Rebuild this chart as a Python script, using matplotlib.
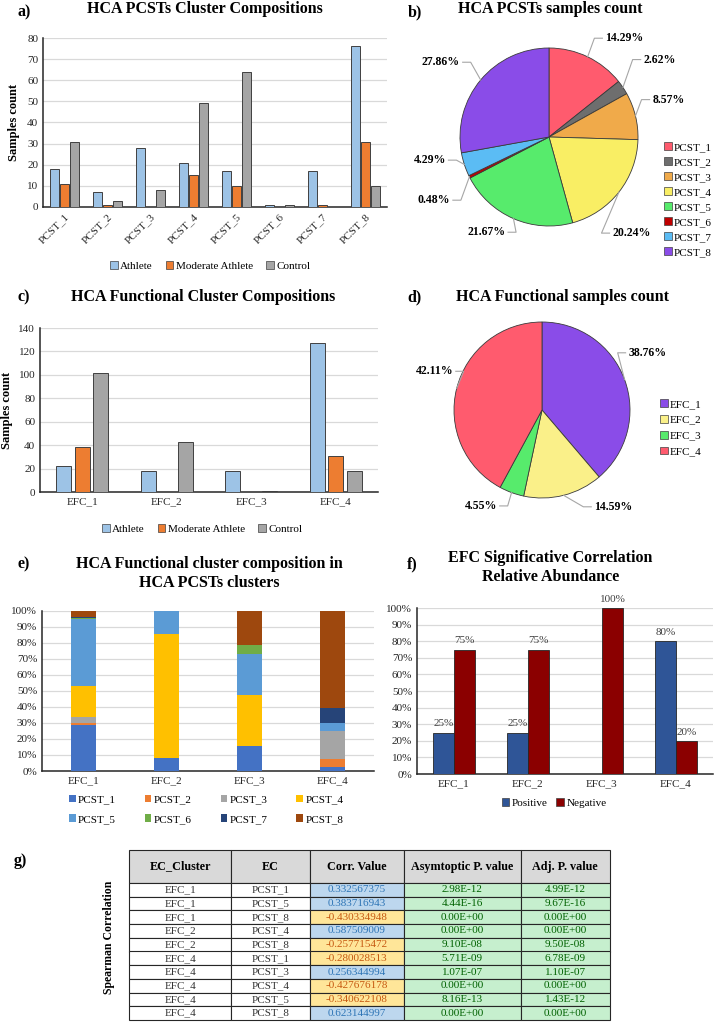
import numpy as np
import matplotlib
matplotlib.use('Agg')
import matplotlib.pyplot as plt
from matplotlib.patches import Patch

plt.rcParams['font.family'] = ['Liberation Serif', 'DejaVu Serif']

W, H = 715, 1022

# ---------------- data ----------------
pcst = ['PCST_1', 'PCST_2', 'PCST_3', 'PCST_4', 'PCST_5', 'PCST_6', 'PCST_7', 'PCST_8']
groups = ['Athlete', 'Moderate Athlete', 'Control']
pcst_athlete = [18, 7, 28, 21, 17, 1, 17, 76]
pcst_moderate = [11, 1, 0, 15, 10, 0, 1, 31]
pcst_control = [31, 3, 8, 49, 64, 1, 0, 10]
pcst_share = [14.29, 2.62, 8.57, 20.24, 21.67, 0.48, 4.29, 27.86]

efc = ['EFC_1', 'EFC_2', 'EFC_3', 'EFC_4']
efc_athlete = [22, 18, 18, 127]
efc_moderate = [38, 0, 0, 31]
efc_control = [102, 43, 1, 18]
efc_share = [38.76, 14.59, 4.55, 42.11]

# % of each PCST cluster inside each EFC (one list per PCST, over EFC_1..EFC_4)
efc_pcst_pct = [
    [28.7, 7.9, 15.6, 2.3],
    [1.4, 0.0, 0.0, 5.2],
    [3.6, 0.0, 0.0, 17.2],
    [19.3, 77.5, 31.6, 0.0],
    [41.8, 14.6, 26.2, 5.2],
    [0.6, 0.0, 5.6, 0.0],
    [1.1, 0.0, 0.0, 9.2],
    [3.5, 0.0, 21.0, 60.9],
]

corr_positive = [25, 25, 0, 80]
corr_negative = [75, 75, 100, 20]

tab_header = ['EC_Cluster', 'EC', 'Corr. Value', 'Asymtoptic P. value', 'Adj. P. value']
tab_cluster = ['EFC_1', 'EFC_1', 'EFC_1', 'EFC_2', 'EFC_2', 'EFC_4', 'EFC_4', 'EFC_4', 'EFC_4', 'EFC_4']
tab_ec = ['PCST_1', 'PCST_5', 'PCST_8', 'PCST_4', 'PCST_8', 'PCST_1', 'PCST_3', 'PCST_4', 'PCST_5', 'PCST_8']
tab_corr = [0.332567375, 0.383716943, -0.430334948, 0.587509009, -0.257715472,
            -0.280028513, 0.256344994, -0.427676178, -0.340622108, 0.623144997]
tab_asym = ['2.98E-12', '4.44E-16', '0.00E+00', '0.00E+00', '9.10E-08',
            '5.71E-09', '1.07E-07', '0.00E+00', '8.16E-13', '0.00E+00']
tab_adj = ['4.99E-12', '9.67E-16', '0.00E+00', '0.00E+00', '9.50E-08',
           '6.78E-09', '1.10E-07', '0.00E+00', '1.43E-12', '0.00E+00']

# ---------------- style ----------------
grp_colors = ['#9DC3E6', '#ED7D31', '#A5A5A5']
pie8_colors = ['#FF5B6E', '#6E6E6E', '#F0AA4A', '#F9EE64', '#57EB6C', '#C00000', '#5BBCF4', '#8A4CE8']
pie4_colors = ['#8A4CE8', '#FAF089', '#57EB6C', '#FF5B6E']
stack_colors = ['#4472C4', '#ED7D31', '#A5A5A5', '#FFC000', '#5B9BD5', '#70AD47', '#264478', '#9E480E']
pos_col, neg_col = '#2F5597', '#8B0000'
grid_col = '#D9D9D9'
TICK = 8


def rect(l, t, r, b):
    return [l / W, 1 - b / H, (r - l) / W, (b - t) / H]


def fxy(x, y):
    return (x / W, 1 - y / H)


def style_axes(ax):
    for s in ['top', 'right']:
        ax.spines[s].set_visible(False)
    for s in ['left', 'bottom']:
        ax.spines[s].set_color('#262626')
        ax.spines[s].set_linewidth(1.1)
    ax.tick_params(length=0, labelsize=TICK, colors='#262626')
    ax.grid(axis='y', color=grid_col, lw=0.9, zorder=0)
    ax.set_axisbelow(True)


def leg_handles(colors, edge='#404040'):
    return [Patch(facecolor=c, edgecolor=edge, linewidth=0.5) for c in colors]


fig = plt.figure(figsize=(W / 100, H / 100), dpi=100)


def title(x, y, s, size=11.5):
    fig.text(*fxy(x, y), s, ha='center', va='center', fontsize=size, fontweight='bold')


# ---- a) grouped bars
ax = fig.add_axes(rect(43, 38, 387, 207))
x = np.arange(len(pcst))
for i, (vals, c) in enumerate(zip([pcst_athlete, pcst_moderate, pcst_control], grp_colors)):
    ax.bar(x + (i - 1) * 0.225, vals, 0.205, color=c, edgecolor='#404040', linewidth=0.7, zorder=3)
ax.set_xlim(-0.5, len(pcst) - 0.5)
ax.set_ylim(0, 80)
ax.set_yticks(range(0, 81, 10))
ax.set_xticks(x)
ax.set_xticklabels(pcst, rotation=45, ha='right', rotation_mode='anchor')
style_axes(ax)
ax.set_ylabel('Samples count', fontsize=9, fontweight='bold', labelpad=5)
title(205, 9, 'HCA PCSTs Cluster Compositions')
title(24, 12, 'a)')
fig.legend(leg_handles(grp_colors), groups, loc='center', bbox_to_anchor=fxy(210, 266), ncol=3,
           frameon=False, fontsize=TICK, handlelength=0.7, handleheight=0.7, handletextpad=0.2,
           columnspacing=1.2)


def pie_panel(cx, cy, r, shares, colors, labels_pos, names, leg_xy, spacing):
    half = 1.5 * r
    axp = fig.add_axes(rect(cx - half, cy - half, cx + half, cy + half))
    wedges, _ = axp.pie(shares, colors=colors, startangle=90, counterclock=False,
                        wedgeprops=dict(edgecolor='#3a3a3a', linewidth=0.6))
    axp.set_xlim(-1.5, 1.5)
    axp.set_ylim(-1.5, 1.5)
    axp.set_aspect('equal')
    axp.axis('off')
    for w, val, (lx, ly, ha) in zip(wedges, shares, labels_pos):
        ang = np.deg2rad((w.theta1 + w.theta2) / 2)
        ex, ey = np.cos(ang), np.sin(ang)
        d = -1 if ha == 'left' else 1
        axp.plot([lx + d * 0.03, lx + d * 0.12, ex], [ly, ly, ey], color='#A6A6A6', lw=0.8)
        axp.text(lx, ly, f'{val:.2f}%', ha=ha, va='center', fontsize=8.5, fontweight='bold')
    fig.legend(leg_handles(colors), names, loc='upper left', bbox_to_anchor=fxy(*leg_xy),
               frameon=False, fontsize=TICK, handlelength=0.7, handleheight=0.7,
               handletextpad=0.2, labelspacing=spacing, borderpad=0, borderaxespad=0)


# ---- b) pie
pie8_labels = [(0.63, 1.11, 'left'), (1.06, 0.87, 'left'), (1.16, 0.42, 'left'), (0.71, -1.08, 'left'),
               (-0.49, -1.07, 'right'), (-1.11, -0.71, 'right'), (-1.16, -0.26, 'right'), (-1.0, 0.84, 'right')]
pie_panel(549, 137, 89, pcst_share, pie8_colors, pie8_labels, pcst, (664, 142), 0.47)
title(550, 9, 'HCA PCSTs samples count')
title(415, 12, 'b)')

# ---- c) grouped bars
ax = fig.add_axes(rect(40, 328, 378, 492))
x = np.arange(len(efc))
for i, (vals, c) in enumerate(zip([efc_athlete, efc_moderate, efc_control], grp_colors)):
    ax.bar(x + (i - 1) * 0.22, vals, 0.175, color=c, edgecolor='#404040', linewidth=0.7, zorder=3)
ax.set_xlim(-0.5, len(efc) - 0.5)
ax.set_ylim(0, 140)
ax.set_yticks(range(0, 141, 20))
ax.set_xticks(x)
ax.set_xticklabels(efc)
style_axes(ax)
ax.set_ylabel('Samples count', fontsize=9, fontweight='bold', labelpad=4)
title(203, 297, 'HCA Functional Cluster Compositions')
title(24, 297, 'c)')
fig.legend(leg_handles(grp_colors), groups, loc='center', bbox_to_anchor=fxy(202, 529), ncol=3,
           frameon=False, fontsize=TICK, handlelength=0.7, handleheight=0.7, handletextpad=0.2,
           columnspacing=1.2)

# ---- d) pie
pie4_labels = [(0.98, 0.65, 'left'), (0.59, -1.10, 'left'), (-0.51, -1.09, 'right'), (-1.01, 0.44, 'right')]
pie_panel(542, 410, 88, efc_share, pie4_colors, pie4_labels, efc, (660, 399), 0.55)
title(563, 297, 'HCA Functional samples count')
title(415, 297, 'd)')

# ---- e) stacked 100% bars
ax = fig.add_axes(rect(42, 611, 374, 771))
x = np.arange(len(efc))
bottom = np.zeros(len(efc))
for vals, c in zip(efc_pcst_pct, stack_colors):
    ax.bar(x, vals, 0.31, bottom=bottom, color=c, zorder=3)
    bottom += np.array(vals)
ax.set_xlim(-0.5, len(efc) - 0.5)
ax.set_ylim(0, 100)
ax.set_yticks(range(0, 101, 10))
ax.set_yticklabels([f'{v}%' for v in range(0, 101, 10)])
ax.set_xticks(x)
ax.set_xticklabels(efc)
style_axes(ax)
title(209, 564, 'HCA Functional cluster composition in')
title(209, 583, 'HCA PCSTs clusters')
title(24, 564, 'e)')
# legend filled row by row (matplotlib fills columns first)
order = [0, 4, 1, 5, 2, 6, 3, 7]
e_handles = leg_handles(stack_colors, edge='none')
fig.legend([e_handles[i] for i in order], [pcst[i] for i in order], loc='upper left',
           bbox_to_anchor=fxy(69, 795), ncol=4, frameon=False, fontsize=TICK, handlelength=0.6,
           handleheight=0.6, handletextpad=0.2, columnspacing=2.6, labelspacing=0.9,
           borderpad=0, borderaxespad=0)

# ---- f) positive / negative
ax = fig.add_axes(rect(417, 608, 713, 774))
bw = 0.285
ax.bar(x - bw / 2, corr_positive, bw, color=pos_col, edgecolor='#262626', linewidth=0.6, zorder=3)
ax.bar(x + bw / 2, corr_negative, bw, color=neg_col, edgecolor='#262626', linewidth=0.6, zorder=3)
for xi, v in zip(x, corr_positive):
    if v > 0:
        ax.text(xi - bw / 2, v + 2.5, f'{v:.0f}%', ha='center', va='bottom', fontsize=TICK, color='#404040')
for xi, v in zip(x, corr_negative):
    ax.text(xi + bw / 2, v + 2.5, f'{v:.0f}%', ha='center', va='bottom', fontsize=TICK, color='#404040',
            clip_on=False)
ax.set_xlim(-0.5, len(efc) - 0.5)
ax.set_ylim(0, 100)
ax.set_yticks(range(0, 101, 10))
ax.set_yticklabels([f'{v}%' for v in range(0, 101, 10)])
ax.set_xticks(x)
ax.set_xticklabels(efc)
style_axes(ax)
title(550, 558, 'EFC Significative Correlation')
title(551, 577, 'Relative Abundance')
title(412, 564, 'f)')
fig.legend(leg_handles([pos_col, neg_col]), ['Positive', 'Negative'], loc='center',
           bbox_to_anchor=fxy(554, 803), ncol=2, frameon=False, fontsize=TICK, handlelength=0.7,
           handleheight=0.7, handletextpad=0.2, columnspacing=0.8)

# ---- g) table
axt = fig.add_axes(rect(129, 850, 610, 1020))
axt.axis('off')
rows = [[c, e, f'{v:.9f}', a, j] for c, e, v, a, j in zip(tab_cluster, tab_ec, tab_corr, tab_asym, tab_adj)]
cell_cols = [['white', 'white', '#BDD7EE' if v > 0 else '#FFE699', '#C6EFCE', '#C6EFCE'] for v in tab_corr]
tbl = axt.table(cellText=rows, colLabels=tab_header, cellColours=cell_cols,
                colColours=['#D9D9D9'] * 5, cellLoc='center', bbox=[0, 0, 1, 1])
tbl.auto_set_font_size(False)
col_w = [102.3, 78.2, 94.0, 116.7, 89.3]
for (r, c), cell in tbl.get_celld().items():
    cell.set_width(col_w[c])
    cell.set_height(33 if r == 0 else 13.7)
    cell.set_edgecolor('#262626')
    cell.set_linewidth(0.8)
    txt = cell.get_text()
    if r == 0:
        txt.set_fontweight('bold')
        txt.set_fontsize(8.7)
    else:
        txt.set_fontsize(8)
        v = tab_corr[r - 1]
        if c == 2:
            txt.set_color('#2E75B6' if v > 0 else '#C65911')
        elif c >= 3:
            txt.set_color('#006100')
        else:
            txt.set_color('#333333')
fig.text(*fxy(109, 937), 'Spearman Correlation', rotation=90, ha='center', va='center',
         fontsize=8.5, fontweight='bold')
title(20, 861, 'g)')

fig.savefig('out.png', dpi=100)
